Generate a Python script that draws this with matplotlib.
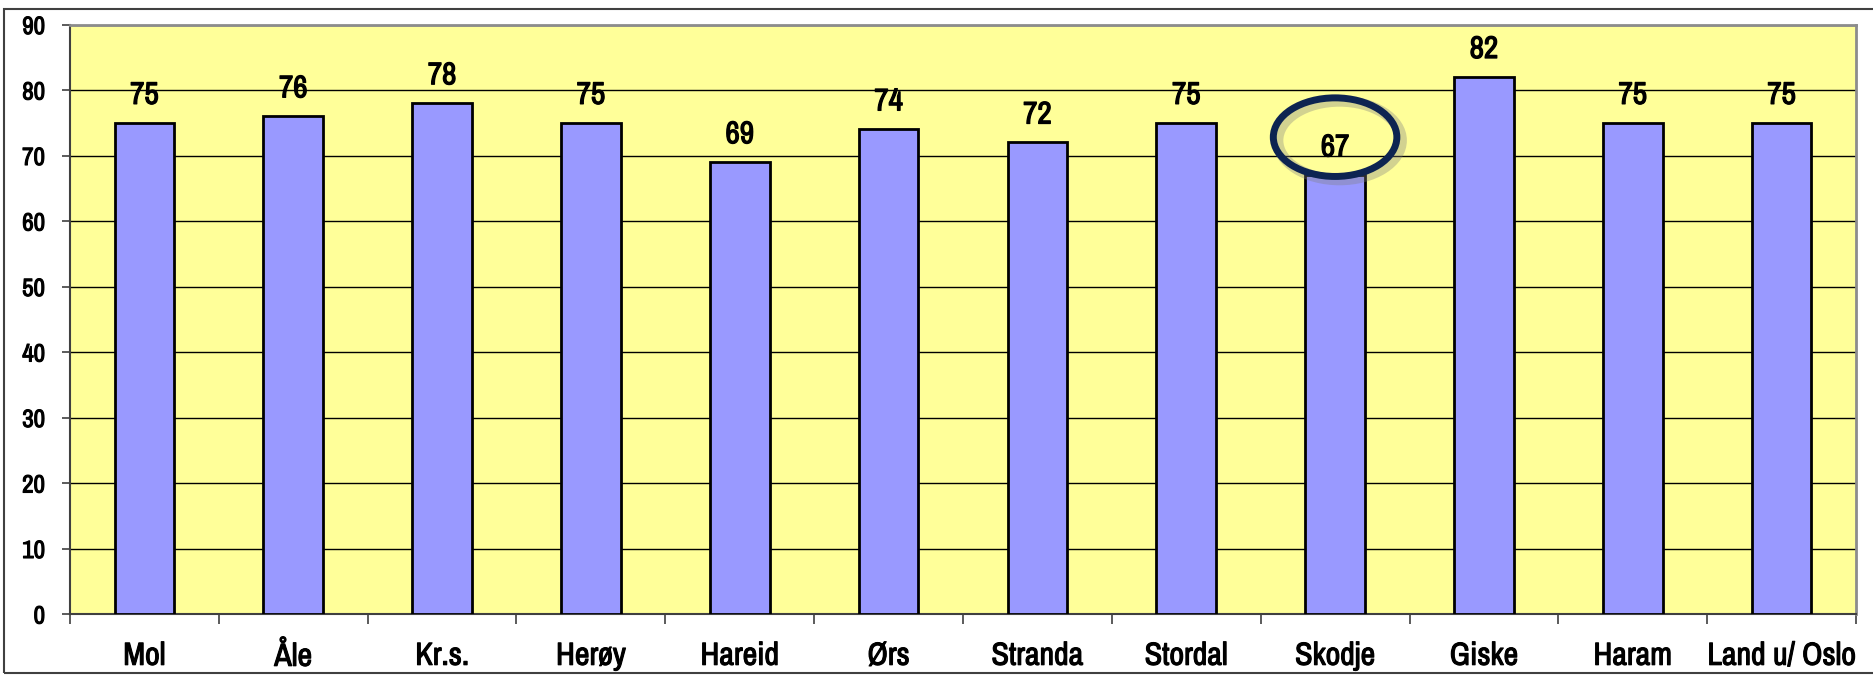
import matplotlib
matplotlib.use("Agg")
import matplotlib.pyplot as plt
import matplotlib.patheffects as pe
from matplotlib.patches import Ellipse, Rectangle

categories = ["Mol", "Åle", "Kr.s.", "Herøy", "Hareid", "Ørs", "Stranda",
              "Stordal", "Skodje", "Giske", "Haram", "Land u/ Oslo"]
values = [75, 76, 78, 75, 69, 74, 72, 75, 67, 82, 75, 75]
yticks = [0, 10, 20, 30, 40, 50, 60, 70, 80, 90]
highlight = "Skodje"

plt.rcParams['font.family'] = ['Archivo Narrow', 'Liberation Sans', 'DejaVu Sans']
plt.rcParams['font.weight'] = 'bold'
bold = [pe.withStroke(linewidth=0.9, foreground="black")]

fig = plt.figure(figsize=(18.74, 6.77), dpi=100)
fig.patch.set_facecolor("white")
ax = fig.add_axes([70/1874, 63/677, (1856-70)/1874, (614-24.5)/677])
ax.set_facecolor("#FFFF99")

x = list(range(len(categories)))
ax.bar(x, values, width=0.4, color="#9999FF", edgecolor="black", linewidth=2, zorder=3)
for xi, v in zip(x, values):
    ax.annotate(str(v), (xi, v), xytext=(0, 10), textcoords="offset points",
                ha="center", va="bottom", fontsize=22.5, fontweight="bold", zorder=5,
                path_effects=bold)

ax.set_xlim(-0.5, len(categories) - 0.5)
ax.set_ylim(0, 90)
ax.set_yticks(yticks)
ax.set_yticklabels([str(t) for t in yticks], fontsize=18, fontweight="bold")
ax.yaxis.grid(True, color="black", linewidth=1, zorder=1)
ax.set_axisbelow(True)

ax.set_xticks(x)
ax.set_xticklabels(categories, fontsize=23, fontweight="bold")
ax.tick_params(axis="x", length=0, pad=20)
ax.set_xticks([i - 0.5 for i in range(len(categories) + 1)], minor=True)
ax.tick_params(axis="x", which="minor", length=7, width=1.2, color="#404040")
ax.tick_params(axis="y", length=6, width=1.2, color="#404040", pad=12)
for lab in ax.get_xticklabels() + ax.get_yticklabels():
    lab.set_path_effects([pe.withStroke(linewidth=0.8, foreground="black")])

for s in ["top", "right"]:
    ax.spines[s].set_color("#8c8c8c")
    ax.spines[s].set_linewidth(2)
for s in ["left", "bottom"]:
    ax.spines[s].set_color("#404040")
    ax.spines[s].set_linewidth(1.5)

# highlight ellipse around Skodje label
hi = categories.index(highlight)
hv = values[hi]
shadow = Ellipse((hi + 0.03, hv + 5.3), 0.83, 12, transform=ax.transData, fill=False,
                 edgecolor="gray", linewidth=8, alpha=0.35, zorder=6, clip_on=False)
ax.add_patch(shadow)
ell = Ellipse((hi, hv + 5.8), 0.83, 12, transform=ax.transData, fill=False,
              edgecolor="#0d2451", linewidth=5, zorder=7, clip_on=False)
ax.add_patch(ell)

# outer frame
frame = Rectangle((4/1874, 4/677), 1.2, (668-4)/677, transform=fig.transFigure,
                  fill=False, edgecolor="#404040", linewidth=1.5)
fig.patches.append(frame)

fig.savefig("out.png", dpi=100, facecolor="white")
